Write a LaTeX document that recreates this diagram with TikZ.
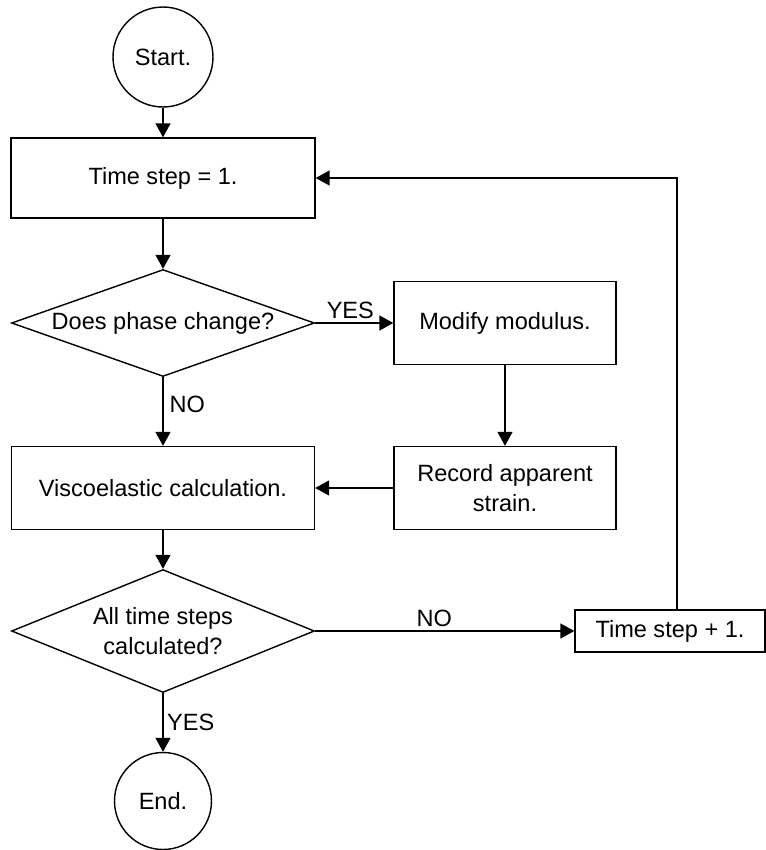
\documentclass[tikz,border=0pt]{standalone}
\usepackage{fontspec}
\setmainfont{Liberation Sans}
\usetikzlibrary{positioning, calc, shapes.geometric, arrows.meta}
\tikzstyle{Arrow} = [
%Flow line with a filled head:
thick,
-{Triangle[length=0.28cm, width=0.3cm]}
]

\begin{document}
\begin{tikzpicture}[x=0.02cm, y=-0.02cm,
			font=\fontsize{13.4}{17}\selectfont,
			terminal/.style = {circle, thick, draw, align = center, inner sep = 0pt, minimum size = 2cm},
			process/.style = {rectangle, thick, draw, align = center, minimum height = 1.66cm},
			decision/.style = {diamond, thick, draw, align = center, aspect = 2.8, inner sep = 0pt, minimum width = 6.06cm},
			tag/.style = {inner sep = 2pt},
		]
		\useasboundingbox (0,0) rectangle (766,850);

		\node[terminal](Start) at (163,57){Start.};
		\node[process, minimum width = 6.08cm, minimum height = 1.6cm](StepOne) at (163,178){Time step = 1.};
		\node[decision, minimum height = 2.14cm](Phase) at (163,323){Does phase change?};
		\node[process, minimum width = 4.44cm](Modify) at (505,323){Modify modulus.};
		\node[process, minimum width = 4.44cm](Record) at (505,488){Record apparent\\strain.};
		\node[process, minimum width = 6.06cm](Visco) at (163,488){Viscoelastic calculation.};
		\node[decision, minimum height = 2.46cm](Done) at (163,631){All time steps\\calculated?};
		\node[process, minimum width = 3.8cm, minimum height = 0.84cm](StepNext) at (670,631){Time step + 1.};
		\node[terminal, minimum size = 1.94cm](End) at (163,801){End.};

		\coordinate(Back) at (677,181);

		\draw[Arrow](Start)--(StepOne);
		\draw[Arrow](StepOne)--(Phase);
		\draw[Arrow](Phase)--node[tag, pos = 0.45, above]{YES}(Modify);
		\draw[Arrow](Phase)--node[pos = 0.4, right]{NO}(Visco);
		\draw[Arrow](Modify)--(Record);
		\draw[Arrow](Record)--(Visco);
		\draw[Arrow](Visco)--(Done);
		\draw[Arrow](Done)--node[tag, pos = 0.46, above]{NO}(StepNext);
		\draw[Arrow](Done)--node[tag, midway, right]{YES}(End);
		\draw[Arrow](StepNext.north -| Back)|-(StepOne);

	\end{tikzpicture}
\end{document}
